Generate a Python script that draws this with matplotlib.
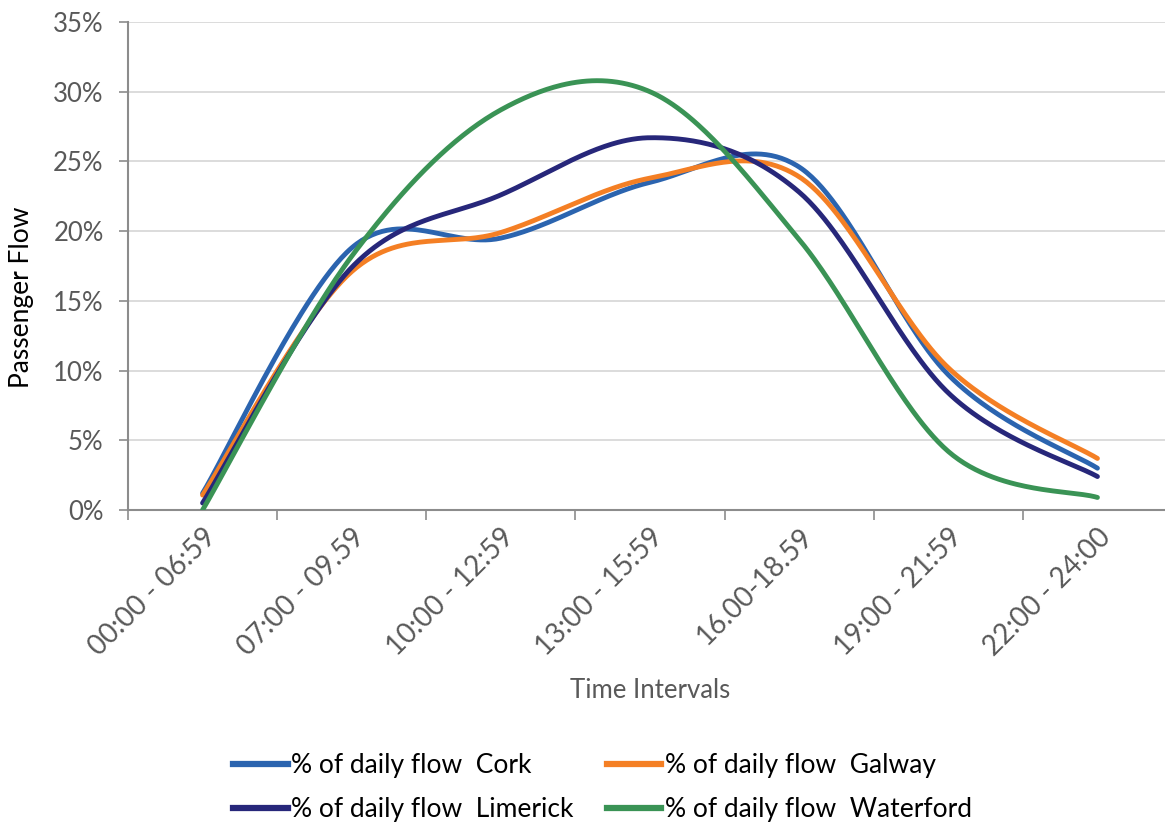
import numpy as np
import matplotlib
matplotlib.use("Agg")
import matplotlib.pyplot as plt
from matplotlib.lines import Line2D

plt.rcParams['font.family'] = ['Lato', 'DejaVu Sans']

# Time-of-day categories and share of daily passenger flow (%)
categories = ["00:00 - 06:59", "07:00 - 09.59", "10:00 - 12:59", "13:00 - 15:59",
              "16.00-18.59", "19:00 - 21:59", "22:00 - 24:00"]
cork = [1.2, 18.8, 19.5, 23.5, 24.6, 9.7, 3.0]
galway = [1.07, 17.1, 19.9, 23.8, 23.9, 10.2, 3.7]
limerick = [0.5, 17.4, 22.6, 26.7, 22.8, 8.4, 2.4]
waterford = [0.0, 18.2, 28.7, 30.0, 19.4, 4.2, 0.9]

series_names = ["% of daily flow  Cork", "% of daily flow  Galway",
                "% of daily flow  Limerick", "% of daily flow  Waterford"]
series_colors = ["#2B64AF", "#F47F24", "#27277A", "#3A9355"]


def smooth_curve(xs, ys, n=60):
    """Bezier smoothing with Catmull-Rom style control points (spreadsheet smoothed line)."""
    pts = np.column_stack([xs, ys]).astype(float)
    ext = np.vstack([pts[0], pts, pts[-1]])
    out = []
    t = np.linspace(0, 1, n)[:, None]
    for i in range(len(pts) - 1):
        p0, p1, p2, p3 = ext[i], ext[i + 1], ext[i + 2], ext[i + 3]
        c1 = p1 + (p2 - p0) / 6.0
        c2 = p2 - (p3 - p1) / 6.0
        seg = ((1 - t) ** 3) * p1 + 3 * ((1 - t) ** 2) * t * c1 + 3 * (1 - t) * t ** 2 * c2 + t ** 3 * p2
        out.append(seg if i == 0 else seg[1:])
    seg = np.vstack(out)
    return seg[:, 0], seg[:, 1]


W, H = 1165, 823
fig = plt.figure(figsize=(W / 100, H / 100), dpi=100)
left_px, right_px, top_px, bottom_px = 128, 1172, 22, 510
ax = fig.add_axes([left_px / W, 1 - bottom_px / H,
                   (right_px - left_px) / W, (bottom_px - top_px) / H])

x = np.arange(len(categories))
for vals, col, name in zip([cork, galway, limerick, waterford], series_colors, series_names):
    sx, sy = smooth_curve(x, np.array(vals) / 100.0)
    ax.plot(sx, sy, color=col, lw=3.5, solid_capstyle='round', label=name, zorder=3)

ax.set_xlim(-0.5, len(categories) - 0.5)
ax.set_ylim(0, 0.35)

axis_grey = "#8C8C8C"
text_grey = "#595959"
fs = 18.5

ax.set_yticks(np.arange(0, 0.351, 0.05))
ax.set_yticklabels([f"{int(round(v * 100))}%" for v in np.arange(0, 0.351, 0.05)])
ax.tick_params(axis='y', length=6.5, width=1.2, color=axis_grey, labelsize=fs,
               labelcolor=text_grey, pad=11)
ax.yaxis.grid(True, color="#D9D9D9", lw=1.3)
ax.set_axisbelow(True)

ax.set_xticks(np.arange(-0.5, len(categories), 1.0))
ax.set_xticklabels([])
ax.tick_params(axis='x', which='major', length=7, width=1.2, color=axis_grey)
ax.set_xticks(x, minor=True)
ax.set_xticklabels(categories, minor=True, rotation=45, ha='right', va='top',
                   rotation_mode='anchor', fontsize=20, color=text_grey)
ax.tick_params(axis='x', which='minor', length=0, pad=10)

for s in ['top', 'right']:
    ax.spines[s].set_visible(False)
for s in ['left', 'bottom']:
    ax.spines[s].set_color(axis_grey)
    ax.spines[s].set_linewidth(1.5)

fig.text(650 / W, 1 - 690 / H, "Time Intervals", ha='center', va='center',
         fontsize=fs, color=text_grey)
fig.text(22 / W, 1 - 297 / H, "Passenger Flow", ha='center', va='center',
         rotation=90, fontsize=19, color='black')

# two-column legend filled row by row: Cork, Galway / Limerick, Waterford
order = [0, 2, 1, 3]
handles = [Line2D([], [], color=series_colors[i], lw=4.5) for i in order]
labels = [series_names[i] for i in order]
leg = fig.legend(handles, labels, ncol=2, loc='upper left',
                 bbox_to_anchor=(233 / W, 1 - 753 / H), frameon=False,
                 fontsize=19, handlelength=2.08, handletextpad=0.12,
                 columnspacing=1.25, labelspacing=0.72, borderpad=0,
                 borderaxespad=0)

fig.savefig("out.png", dpi=100)
